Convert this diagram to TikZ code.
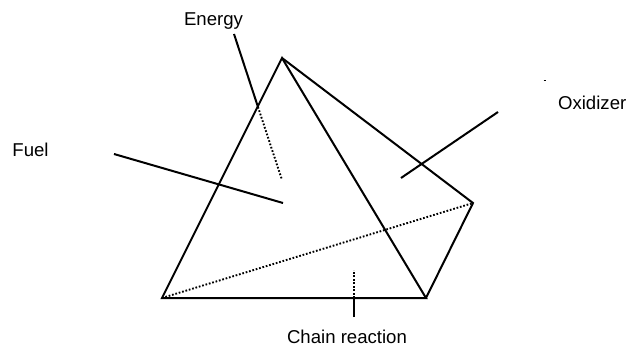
\documentclass[tikz,border=0pt]{standalone}
\usepackage{fontspec}
\setmainfont{Liberation Sans}
\begin{document}
\begin{tikzpicture}[x=1pt,y=-1pt,
  solidline/.style={line width=2pt,black},
  dotline/.style={line width=1.9pt,black,dash pattern=on 1.7pt off 1.8pt},
  lbl/.style={inner sep=0pt,font=\fontsize{18.6}{21}\selectfont}]
\useasboundingbox (0,0) rectangle (627,345);
\coordinate (apex) at (282,58);
\coordinate (left) at (162,298);
\coordinate (mid) at (426,298);
\coordinate (right) at (473,203);
\coordinate (e1) at (234,34);
\coordinate (e2) at (258,107);
\coordinate (e3) at (282,180);
\coordinate (f1) at (114,154);
\coordinate (f2) at (283,203);
\coordinate (o1) at (498,112);
\coordinate (o2) at (401,178);
\coordinate (c1) at (354,317);
\coordinate (c2) at (354,298);
\coordinate (c3) at (354,270);
\coordinate (t1) at (543.5,81);
\coordinate (t2) at (546,81);
\draw[solidline,line join=miter] (left) -- (apex) -- (mid) -- cycle;
\draw[solidline] (apex) -- (right) -- (mid);
\draw[dotline] (left) -- (right);
\draw[solidline] (e1) -- (e2);
\draw[dotline] (e2) -- (e3);
\draw[solidline] (f1) -- (f2);
\draw[solidline] (o1) -- (o2);
\draw[solidline] (c1) -- (c2);
\draw[dotline] (c2) -- (c3);
\draw[line width=1pt] (t1) -- (t2);
\node[lbl,anchor=base] (energy) at (213.5,26) {Energy};
\node[lbl,anchor=base] (fuel) at (30.5,157) {Fuel};
\node[lbl,anchor=base east] (oxidizer) at (626.5,110) {Oxidizer};
\node[lbl,anchor=base] (chain) at (347,343) {Chain reaction};
\end{tikzpicture}
\end{document}
